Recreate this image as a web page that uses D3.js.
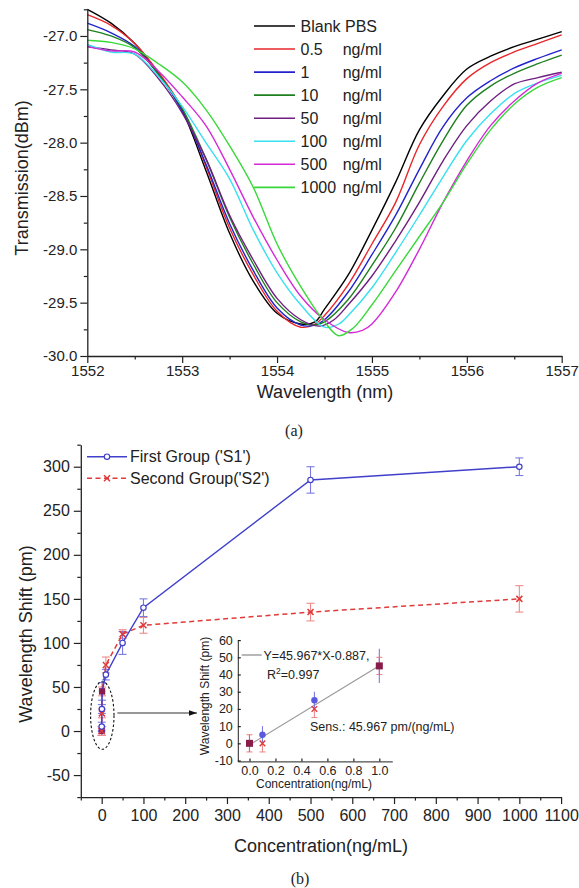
<!DOCTYPE html>
<html><head><meta charset="utf-8">
<script src="https://cdn.jsdelivr.net/npm/d3@7"></script>
<style>
body{margin:0;background:#fff;}
svg{display:block;font-family:"Liberation Sans",Arial,sans-serif;}
</style></head><body>
<svg id="c" width="579" height="888"></svg>
<script>
// ---------- Data: panel (a) transmission spectra [wavelength nm, dBm] ----------
const blankPBS = [[1552.00,-26.75],[1552.25,-26.88],[1552.50,-27.07],[1552.75,-27.35],[1553.00,-27.70],[1553.25,-28.26],[1553.50,-28.85],[1553.75,-29.30],[1554.00,-29.60],[1554.25,-29.70],[1554.40,-29.68],[1554.50,-29.56],[1554.75,-29.24],[1555.00,-28.82],[1555.25,-28.37],[1555.50,-27.88],[1555.75,-27.56],[1556.00,-27.31],[1556.25,-27.19],[1556.50,-27.10],[1556.75,-27.03],[1557.00,-26.96]];
const conc05 = [[1552.00,-26.80],[1552.25,-26.90],[1552.50,-27.07],[1552.75,-27.34],[1553.00,-27.68],[1553.25,-28.22],[1553.50,-28.80],[1553.75,-29.24],[1554.00,-29.58],[1554.25,-29.73],[1554.40,-29.70],[1554.50,-29.62],[1554.75,-29.33],[1555.00,-28.95],[1555.25,-28.56],[1555.50,-28.02],[1555.75,-27.66],[1556.00,-27.40],[1556.25,-27.25],[1556.50,-27.15],[1556.75,-27.07],[1557.00,-26.99]];
const conc1 = [[1552.00,-26.88],[1552.25,-26.97],[1552.50,-27.10],[1552.75,-27.36],[1553.00,-27.70],[1553.25,-28.20],[1553.50,-28.76],[1553.75,-29.20],[1554.00,-29.55],[1554.25,-29.71],[1554.40,-29.71],[1554.50,-29.66],[1554.75,-29.40],[1555.00,-29.05],[1555.25,-28.68],[1555.50,-28.25],[1555.75,-27.85],[1556.00,-27.58],[1556.25,-27.42],[1556.50,-27.30],[1556.75,-27.21],[1557.00,-27.13]];
const conc10 = [[1552.00,-26.94],[1552.25,-27.00],[1552.50,-27.11],[1552.75,-27.36],[1553.00,-27.68],[1553.25,-28.15],[1553.50,-28.70],[1553.75,-29.14],[1554.00,-29.50],[1554.25,-29.68],[1554.40,-29.71],[1554.50,-29.68],[1554.75,-29.47],[1555.00,-29.15],[1555.25,-28.80],[1555.50,-28.38],[1555.75,-27.98],[1556.00,-27.65],[1556.25,-27.47],[1556.50,-27.35],[1556.75,-27.26],[1557.00,-27.18]];
const conc50 = [[1552.00,-27.10],[1552.25,-27.13],[1552.50,-27.17],[1552.75,-27.40],[1553.00,-27.72],[1553.25,-28.15],[1553.50,-28.68],[1553.75,-29.10],[1554.00,-29.46],[1554.25,-29.66],[1554.45,-29.72],[1554.60,-29.66],[1554.75,-29.52],[1555.00,-29.25],[1555.25,-28.92],[1555.50,-28.56],[1555.75,-28.17],[1556.00,-27.84],[1556.25,-27.61],[1556.50,-27.45],[1556.75,-27.39],[1557.00,-27.34]];
const conc100 = [[1552.00,-27.08],[1552.25,-27.15],[1552.50,-27.17],[1552.75,-27.38],[1553.00,-27.66],[1553.25,-28.00],[1553.50,-28.34],[1553.75,-28.82],[1554.00,-29.22],[1554.25,-29.52],[1554.50,-29.73],[1554.65,-29.70],[1554.75,-29.62],[1555.00,-29.36],[1555.25,-29.03],[1555.50,-28.68],[1555.75,-28.32],[1556.00,-27.98],[1556.25,-27.73],[1556.50,-27.54],[1556.75,-27.44],[1557.00,-27.37]];
const conc500 = [[1552.00,-27.10],[1552.25,-27.14],[1552.50,-27.15],[1552.75,-27.33],[1553.00,-27.57],[1553.25,-27.84],[1553.50,-28.25],[1553.75,-28.70],[1554.00,-29.10],[1554.25,-29.44],[1554.50,-29.66],[1554.75,-29.78],[1554.90,-29.76],[1555.00,-29.70],[1555.25,-29.40],[1555.50,-29.00],[1555.75,-28.56],[1556.00,-28.17],[1556.25,-27.84],[1556.50,-27.61],[1556.75,-27.44],[1557.00,-27.35]];
const conc1000 = [[1552.00,-27.04],[1552.25,-27.06],[1552.50,-27.12],[1552.75,-27.26],[1553.00,-27.43],[1553.25,-27.69],[1553.50,-28.03],[1553.75,-28.42],[1554.00,-28.95],[1554.25,-29.35],[1554.50,-29.68],[1554.65,-29.81],[1554.80,-29.74],[1555.00,-29.52],[1555.25,-29.20],[1555.50,-28.88],[1555.75,-28.56],[1556.00,-28.20],[1556.25,-27.88],[1556.50,-27.64],[1556.75,-27.48],[1557.00,-27.39]];
const spectraNames = ["Blank PBS","0.5","1","10","50","100","500","1000"];
const spectraUnits = ["","ng/ml","ng/ml","ng/ml","ng/ml","ng/ml","ng/ml","ng/ml"];
const wlTicks = [1552,1553,1554,1555,1556,1557];
const wlMinor = [1552.5,1553.5,1554.5,1555.5,1556.5];
const dbmTicks = [-30.0,-29.5,-29.0,-28.5,-28.0,-27.5,-27.0];
const dbmMinor = [-29.75,-29.25,-28.75,-28.25,-27.75,-27.25,-26.75];

// ---------- Data: panel (b) wavelength shift vs concentration ----------
const concentrations = [0, 0.1, 0.5, 1, 10, 50, 100, 500, 1000];
const s1Shift = [0, 5, 25, 45, 64, 100, 140, 285, 300];
const s1Err   = [5, 5, 5, 10, 6, 13, 10, 15, 10];
const s2Shift = [0, 0, 20, 45, 75, 110, 120, 135, 150];
const s2Err   = [5, 5, 5, 5, 9, 5, 9, 10, 15];
const concTicks = [0,100,200,300,400,500,600,700,800,900,1000,1100];
const concMinor = [-50,50,150,250,350,450,550,650,750,850,950,1050];
const shiftTicks = [-50,0,50,100,150,200,250,300];
const shiftMinor = [-75,-25,25,75,125,175,225,275,325];
const insetXTicks = [0.0,0.2,0.4,0.6,0.8,1.0];
const insetYTicks = [-10,0,10,20,30,40,50,60];
const fitSlope = 45.967, fitIntercept = -0.887;

// ---------- styles ----------
const spectraColors = ["#000000","#e8262a","#2222cc","#1e7f1e","#6f1f80","#38e0f0","#d42ad8","#3ad83a"];
const blue = "#4040cc", red = "#e03a3a", blueErr = "#7a7ae0", redErr = "#f08a8a", overlap = "#8a1c4a";

const svg = d3.select("#c");

function styleAxis(g, fs){
  g.selectAll("path.domain").attr("stroke","#222").attr("stroke-width",1.3);
  g.selectAll(".tick line").attr("stroke","#222").attr("stroke-width",1.2);
  g.selectAll(".tick text").attr("font-size",fs).attr("fill","#222")
   .attr("font-family","'Liberation Sans',Arial,sans-serif");
}

// ================= Panel (a) =================
const xA = d3.scaleLinear().domain([1552,1557]).range([87.3,561.7]);
const yA = d3.scaleLinear().domain([-30,-26.75]).range([356,9.3]);
const gA = svg.append("g");
const lineA = d3.line().x(d=>xA(d[0])).y(d=>yA(d[1])).curve(d3.curveCatmullRom.alpha(0.5));
const spectra = [blankPBS,conc05,conc1,conc10,conc50,conc100,conc500,conc1000];
spectra.forEach((s,i)=>{
  gA.append("path").attr("d",lineA(s)).attr("fill","none")
    .attr("stroke",spectraColors[i]).attr("stroke-width",1.4);
});
// axes
gA.append("g").attr("transform","translate(0,356)")
  .call(d3.axisBottom(xA).tickValues(wlMinor).tickSize(3.5).tickFormat("")).call(g=>g.select(".domain").remove())
  .call(g=>styleAxis(g,15));
gA.append("g").attr("transform","translate(87.3,0)")
  .call(d3.axisLeft(yA).tickValues(dbmMinor).tickSize(3.5).tickFormat("")).call(g=>g.select(".domain").remove())
  .call(g=>styleAxis(g,15));
gA.append("g").attr("transform","translate(0,356)")
  .call(d3.axisBottom(xA).tickValues(wlTicks).tickSize(7).tickSizeOuter(0).tickPadding(2).tickFormat(d3.format("d")))
  .call(g=>styleAxis(g,15));
gA.append("g").attr("transform","translate(87.3,0)")
  .call(d3.axisLeft(yA).tickValues(dbmTicks).tickSize(7).tickSizeOuter(0).tickPadding(3).tickFormat(d=>d.toFixed(1)))
  .call(g=>styleAxis(g,15));
// titles
gA.append("text").attr("transform","translate(28,178) rotate(-90)").attr("text-anchor","middle")
  .attr("font-size",18).attr("fill","#222").text("Transmission(dBm)");
gA.append("text").attr("x",325).attr("y",398).attr("text-anchor","middle")
  .attr("font-size",18).attr("fill","#222").text("Wavelength (nm)");
svg.append("text").attr("x",294).attr("y",436).attr("text-anchor","middle")
  .attr("font-family","'Liberation Serif','Times New Roman',serif").attr("font-size",16).attr("fill","#222").text("(a)");
// legend
const legA = gA.append("g");
spectraNames.forEach((n,i)=>{
  const y = 26 + i*23.05;
  legA.append("line").attr("x1",254).attr("x2",295).attr("y1",y).attr("y2",y)
    .attr("stroke",spectraColors[i]).attr("stroke-width",1.6);
  legA.append("text").attr("x",300.5).attr("y",y).attr("dy","0.36em").attr("font-size",16).attr("fill","#222").text(n);
  if(spectraUnits[i]) legA.append("text").attr("x",342.7).attr("y",y).attr("dy","0.36em").attr("font-size",16).attr("fill","#222").text(spectraUnits[i]);
});

// ================= Panel (b) =================
const xB = d3.scaleLinear().domain([-50,1100]).range([80.8,561.1]);
const yB = d3.scaleLinear().domain([-75,325]).range([797.1,444.7]);
const gB = svg.append("g");
gB.append("g").attr("transform","translate(0,797.1)")
  .call(d3.axisBottom(xB).tickValues(concMinor).tickSize(3.5).tickFormat("")).call(g=>g.select(".domain").remove())
  .call(g=>styleAxis(g,16));
gB.append("g").attr("transform","translate(80.8,0)")
  .call(d3.axisLeft(yB).tickValues(shiftMinor).tickSize(3.5).tickFormat("")).call(g=>g.select(".domain").remove())
  .call(g=>styleAxis(g,16));
gB.append("g").attr("transform","translate(0,797.1)")
  .call(d3.axisBottom(xB).tickValues(concTicks).tickSize(7).tickSizeOuter(0).tickPadding(6).tickFormat(d3.format("d")))
  .call(g=>styleAxis(g,16));
gB.append("g").attr("transform","translate(80.8,0)")
  .call(d3.axisLeft(yB).tickValues(shiftTicks).tickSize(7).tickSizeOuter(0).tickPadding(4).tickFormat(d=>d<0?"-"+Math.abs(d):String(d)))
  .call(g=>styleAxis(g,16));
gB.append("text").attr("transform","translate(32,634) rotate(-90)").attr("text-anchor","middle")
  .attr("font-size",18).attr("fill","#222").text("Wavelength Shift (pm)");
gB.append("text").attr("x",321).attr("y",852).attr("text-anchor","middle")
  .attr("font-size",18).attr("fill","#222").text("Concentration(ng/mL)");
svg.append("text").attr("x",300).attr("y",884).attr("text-anchor","middle")
  .attr("font-family","'Liberation Serif','Times New Roman',serif").attr("font-size",16).attr("fill","#222").text("(b)");

const ptsB = concentrations.map((c,i)=>({c, y1:s1Shift[i], e1:s1Err[i], y2:s2Shift[i], e2:s2Err[i]}));
function errBar(g, x, y, e, ys, color, cap){
  g.append("line").attr("x1",x).attr("x2",x).attr("y1",ys(y-e)).attr("y2",ys(y+e)).attr("stroke",color).attr("stroke-width",1.1);
  [y-e,y+e].forEach(v=>g.append("line").attr("x1",x-cap).attr("x2",x+cap).attr("y1",ys(v)).attr("y2",ys(v)).attr("stroke",color).attr("stroke-width",1.1));
}
const xMark = "M-3,-3L3,3M-3,3L3,-3";
// error bars
ptsB.forEach(p=>{
  errBar(gB, xB(p.c), p.y2, p.e2, yB, redErr, 4);
  errBar(gB, xB(p.c), p.y1, p.e1, yB, blueErr, 4);
});
// lines
const l1 = d3.line().x(d=>xB(d.c)).y(d=>yB(d.y1));
const l2 = d3.line().x(d=>xB(d.c)).y(d=>yB(d.y2));
gB.append("path").attr("d",l2(ptsB)).attr("fill","none").attr("stroke",red).attr("stroke-width",1.5).attr("stroke-dasharray","5,3.5");
gB.append("path").attr("d",l1(ptsB)).attr("fill","none").attr("stroke",blue).attr("stroke-width",1.4);
ptsB.forEach(p=>{
  gB.append("path").attr("d",xMark).attr("transform",`translate(${xB(p.c)},${yB(p.y2)})`).attr("stroke",red).attr("stroke-width",1.5);
  gB.append("circle").attr("cx",xB(p.c)).attr("cy",yB(p.y1)).attr("r",2.7).attr("fill","#fff").attr("stroke",blue).attr("stroke-width",1.2);
  if(p.y1===p.y2) gB.append("rect").attr("x",xB(p.c)-2.8).attr("y",yB(p.y1)-2.8).attr("width",5.6).attr("height",5.6).attr("fill",overlap);
});
// legend (b)
const legB = gB.append("g");
legB.append("line").attr("x1",87).attr("x2",127).attr("y1",456.7).attr("y2",456.7).attr("stroke",blue).attr("stroke-width",1.4);
legB.append("circle").attr("cx",107).attr("cy",456.7).attr("r",2.7).attr("fill","#fff").attr("stroke",blue).attr("stroke-width",1.2);
legB.append("text").attr("x",130).attr("y",456.7).attr("dy","0.36em").attr("font-size",16).attr("fill","#222").text("First Group ('S1')");
legB.append("line").attr("x1",87).attr("x2",127).attr("y1",478.3).attr("y2",478.3).attr("stroke",red).attr("stroke-width",1.5).attr("stroke-dasharray","5,3.5");
legB.append("path").attr("d",xMark).attr("transform","translate(107,478.3)").attr("stroke",red).attr("stroke-width",1.5);
legB.append("text").attr("x",130).attr("y",478.3).attr("dy","0.36em").attr("font-size",16).attr("fill","#222").text("Second Group('S2')");

// ellipse + arrow
gB.append("ellipse").attr("cx",102.3).attr("cy",715.5).attr("rx",11.7).attr("ry",33.8)
  .attr("fill","none").attr("stroke","#111").attr("stroke-width",1.1).attr("stroke-dasharray","2.5,2");
svg.append("defs").append("marker").attr("id","arr").attr("viewBox","0 0 10 10").attr("refX",10).attr("refY",5)
  .attr("markerWidth",8).attr("markerHeight",8).attr("markerUnits","userSpaceOnUse").attr("orient","auto")
  .append("path").attr("d","M0,1.5L10,5L0,8.5Z").attr("fill","#111");
gB.append("line").attr("x1",117.3).attr("x2",197).attr("y1",713).attr("y2",713).attr("stroke","#333").attr("stroke-width",1.1).attr("marker-end","url(#arr)");

// ---------- inset ----------
const xI = d3.scaleLinear().domain([-0.09,1.1]).range([237.8,392.3]);
const yI = d3.scaleLinear().domain([-10.5,60]).range([761.4,640.1]);
const gI = gB.append("g");
gI.append("g").attr("transform","translate(0,761.4)")
  .call(d3.axisBottom(xI).tickValues(insetXTicks).tickSize(-3).tickSizeOuter(0).tickPadding(5).tickFormat(d3.format(".1f")))
  .call(g=>styleAxis(g,12.5));
gI.append("g").attr("transform","translate(237.8,0)")
  .call(d3.axisLeft(yI).tickValues(insetYTicks).tickSize(-3).tickSizeOuter(0).tickPadding(5).tickFormat(d=>d<0?"-"+Math.abs(d):String(d)))
  .call(g=>styleAxis(g,12.5));
gI.selectAll("path.domain").attr("stroke-width",1);
gI.append("text").attr("transform","translate(209,696) rotate(-90)").attr("text-anchor","middle")
  .attr("font-size",12).attr("fill","#222").text("Wavelength Shift (pm)");
gI.append("text").attr("x",314).attr("y",788).attr("text-anchor","middle")
  .attr("font-size",12).attr("fill","#222").text("Concentration(ng/mL)");
// fit line
gI.append("line").attr("x1",xI(0)).attr("x2",xI(1)).attr("y1",yI(fitIntercept)).attr("y2",yI(fitSlope+fitIntercept))
  .attr("stroke","#999").attr("stroke-width",1.2);
const ptsI = ptsB.filter(p=>p.c<=1);
ptsI.forEach(p=>{
  errBar(gI, xI(p.c), p.y2, p.e2, yI, redErr, 3);
  errBar(gI, xI(p.c), p.y1, p.e1, yI, blueErr, 0);
});
ptsI.forEach(p=>{
  if(p.y1===p.y2){
    gI.append("rect").attr("x",xI(p.c)-3.5).attr("y",yI(p.y1)-3.5).attr("width",7).attr("height",7).attr("fill",overlap);
  } else {
    gI.append("circle").attr("cx",xI(p.c)).attr("cy",yI(p.y1)).attr("r",3.2).attr("fill","#5a5ae0");
    gI.append("path").attr("d","M-2.8,-2.8L2.8,2.8M-2.8,2.8L2.8,-2.8").attr("transform",`translate(${xI(p.c)},${yI(p.y2)})`).attr("stroke",red).attr("stroke-width",1.4);
  }
});
gI.append("line").attr("x1",241.7).attr("x2",261.7).attr("y1",655).attr("y2",655).attr("stroke","#888").attr("stroke-width",1.2);
gI.append("text").attr("x",263.5).attr("y",655).attr("dy","0.36em").attr("font-size",12.5).attr("fill","#222")
  .text(`Y=${fitSlope}*X${fitIntercept},`);
const r2 = gI.append("text").attr("x",267).attr("y",674.5).attr("dy","0.36em").attr("font-size",12.5).attr("fill","#222");
r2.append("tspan").text("R");
r2.append("tspan").attr("font-size",8.5).attr("dy","-0.6em").text("2");
r2.append("tspan").attr("dy","0.42em").text("=0.997");
gI.append("text").attr("x",310).attr("y",726.7).attr("dy","0.36em").attr("font-size",12.5).attr("fill","#222")
  .text(`Sens.: ${fitSlope} pm/(ng/mL)`);
</script>
</body></html>
